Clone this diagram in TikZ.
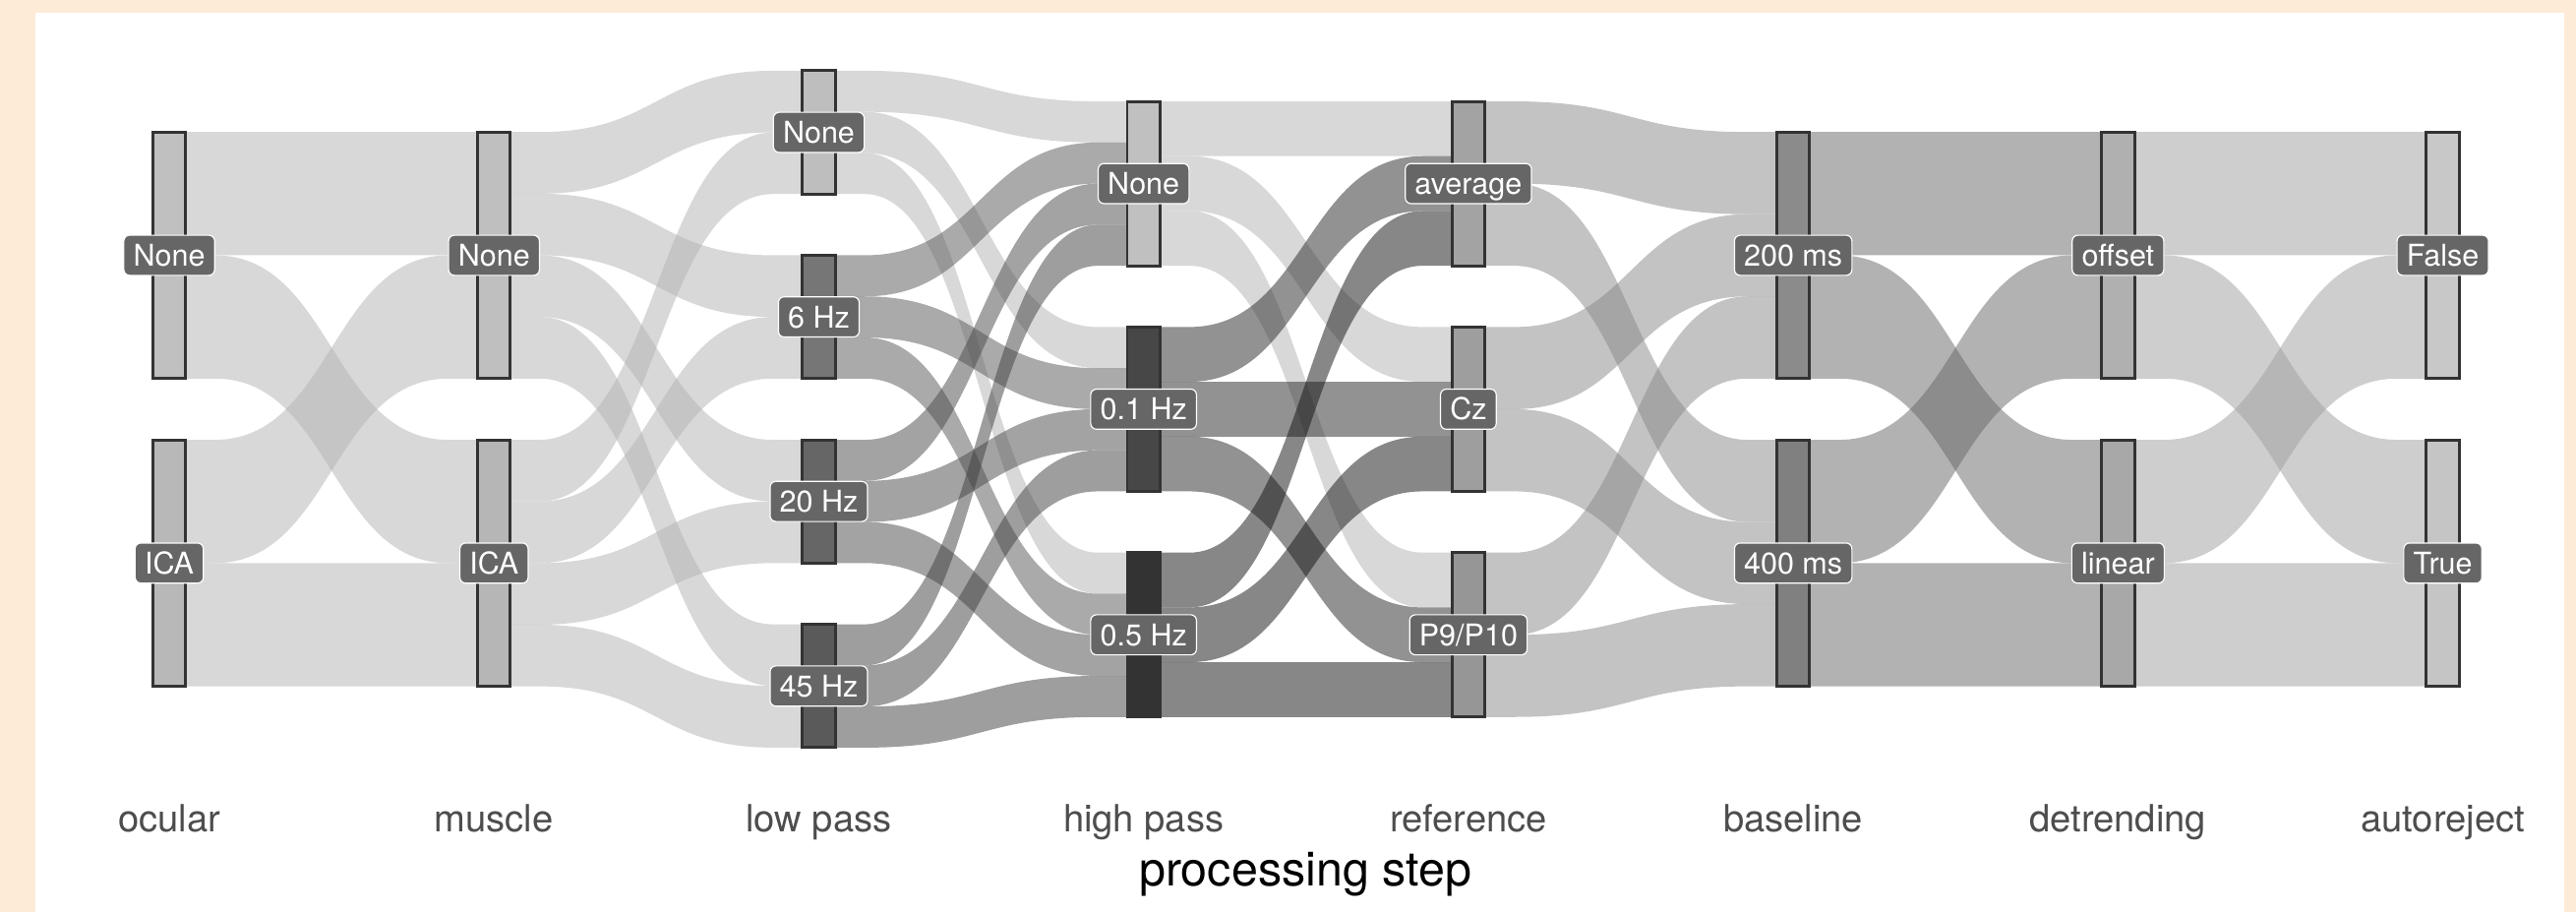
\documentclass[tikz,border=0pt]{standalone}
\usepackage{fontspec}
\setmainfont{TeX Gyre Heros}
\definecolor{beige}{RGB}{253,235,216}
\definecolor{strokec}{RGB}{51,51,51}
\definecolor{labc}{RGB}{102,102,102}
\definecolor{axc}{RGB}{77,77,77}
\begin{document}
\begin{tikzpicture}[x=0.02cm,y=-0.02cm,
  g/.style={fill={rgb,255:red,#1;green,#1;blue,#1}},
  stratum/.style={draw=strokec, line width=1pt},
  lab/.style={fill=labc, draw=white, line width=0.4pt, rounded corners=2pt,
    text=white, font=\fontsize{10.4}{12}\selectfont, inner xsep=3.3pt,
    inner ysep=3.2pt, text height=7.5pt, text depth=0pt},
  axlab/.style={text=axc, font=\fontsize{13}{15}\selectfont, anchor=base, inner sep=0pt},
  ttl/.style={text=black, font=\fontsize{16.5}{19}\selectfont, anchor=base, inner sep=0pt}]
\useasboundingbox (0,0) rectangle (1568,555);
\fill[beige] (0,0) rectangle (1568,555);
\fill[white] (21.6,7.8) rectangle (1561,555);
% flows: column index / source top / source bottom / target top / target bottom / gray
\foreach \i/\a/\b/\c/\d/\col in {
 0/80.35/155.35/80.35/155.35/179, 0/155.35/230.35/267.65/342.65/179,
 0/267.65/342.65/155.35/230.35/179, 0/342.65/417.65/342.65/417.65/179,
 1/80.35/117.85/43.05/80.55/179, 1/117.85/155.35/155.35/192.85/179,
 1/155.35/192.85/267.65/305.15/179, 1/192.85/230.35/379.95/417.45/179,
 1/267.65/305.15/80.55/118.05/179, 1/305.15/342.65/192.85/230.35/179,
 1/342.65/380.15/305.15/342.65/179, 1/380.15/417.65/417.45/454.95/179,
 2/43.05/68.05/61.7/86.7/179, 2/68.05/93.05/199/224/179, 2/93.05/118.05/336.3/361.3/179,
 2/155.35/180.35/86.7/111.7/87, 2/180.35/205.35/224/249/87, 2/205.35/230.35/361.3/386.3/87,
 2/267.65/292.65/111.7/136.7/73, 2/292.65/317.65/249/274/73, 2/317.65/342.65/386.3/411.3/73,
 2/379.95/404.95/136.7/161.7/63, 2/404.95/429.95/274/299/63, 2/429.95/454.95/411.3/436.3/63,
 3/61.7/95.03/61.7/95.03/179, 3/95.03/128.37/199/232.33/179, 3/128.37/161.7/336.3/369.63/179,
 3/199/232.33/95.03/128.37/39, 3/232.33/265.67/232.33/265.67/39, 3/265.67/299/369.63/402.97/39,
 3/336.3/369.63/128.37/161.7/17, 3/369.63/402.97/265.67/299/17, 3/402.97/436.3/402.97/436.3/17,
 4/61.7/111.7/80.35/130.35/137, 4/111.7/161.7/267.65/317.65/137,
 4/199/249/130.35/180.35/137, 4/249/299/317.65/367.65/137,
 4/336.3/386.3/180.35/230.35/137, 4/386.3/436.3/367.65/417.65/137,
 5/80.35/155.35/80.35/155.35/103, 5/155.35/230.35/267.65/342.65/103,
 5/267.65/342.65/155.35/230.35/103, 5/342.65/417.65/342.65/417.65/103,
 6/80.35/155.35/80.35/155.35/159, 6/155.35/230.35/267.65/342.65/159,
 6/267.65/342.65/155.35/230.35/159, 6/342.65/417.65/342.65/417.65/159}{
  \pgfmathsetmacro\xa{103+197.7*\i+10}
  \pgfmathsetmacro\xb{103+197.7*(\i+1)-10}
  \pgfmathsetmacro\xp{\xa+0.1*(\xb-\xa)}
  \pgfmathsetmacro\xq{\xb-0.1*(\xb-\xa)}
  \pgfmathsetmacro\xm{(\xa+\xb)/2}
  \fill[g=\col, fill opacity=0.5] (\xa,\a) -- (\xp,\a) .. controls (\xm,\a) and (\xm,\c) .. (\xq,\c)
     -- (\xb,\c) -- (\xb,\d) -- (\xq,\d) .. controls (\xm,\d) and (\xm,\b) .. (\xp,\b) -- (\xa,\b) -- cycle;
}
% strata: x / top / bottom / gray
\foreach \x/\t/\b/\col in {
 103/80.35/230.35/192, 103/267.65/417.65/184,
 300.7/80.35/230.35/191, 300.7/267.65/417.65/182,
 498.4/43.05/118.05/190, 498.4/155.35/230.35/118, 498.4/267.65/342.65/102, 498.4/379.95/454.95/90,
 696.1/61.7/161.7/192, 696.1/199/299/71, 696.1/336.3/436.3/51,
 893.8/61.7/161.7/163, 893.8/199/299/158, 893.8/336.3/436.3/150,
 1091.5/80.35/230.35/139, 1091.5/267.65/417.65/128,
 1289.2/80.35/230.35/176, 1289.2/267.65/417.65/168,
 1486.9/80.35/230.35/200, 1486.9/267.65/417.65/197}{
  \draw[stratum, g=\col] (\x-10,\t) rectangle (\x+10,\b);
}
% stratum labels
\node[lab] (ocNone) at (103,155.35) {None};
\node[lab] (ocICA) at (103,342.65) {ICA};
\node[lab] (muNone) at (300.7,155.35) {None};
\node[lab] (muICA) at (300.7,342.65) {ICA};
\node[lab] (lpNone) at (498.4,80.55) {None};
\node[lab] (lpSix) at (498.4,192.85) {6 Hz};
\node[lab] (lpTwenty) at (498.4,305.15) {20 Hz};
\node[lab] (lpFortyFive) at (498.4,417.45) {45 Hz};
\node[lab] (hpNone) at (696.1,111.7) {None};
\node[lab] (hpOne) at (696.1,249) {0.1 Hz};
\node[lab] (hpFive) at (696.1,386.3) {0.5 Hz};
\node[lab] (refAvg) at (893.8,111.7) {average};
\node[lab] (refCz) at (893.8,249) {Cz};
\node[lab] (refP) at (893.8,386.3) {P9/P10};
\node[lab] (blTwo) at (1091.5,155.35) {200 ms};
\node[lab] (blFour) at (1091.5,342.65) {400 ms};
\node[lab] (dtOffset) at (1289.2,155.35) {offset};
\node[lab] (dtLinear) at (1289.2,342.65) {linear};
\node[lab] (arFalse) at (1486.9,155.35) {False};
\node[lab] (arTrue) at (1486.9,342.65) {True};
% axis labels
\node[axlab] (axOc) at (103,506) {ocular};
\node[axlab] (axMu) at (300.7,506) {muscle};
\node[axlab] (axLp) at (498.4,506) {low pass};
\node[axlab] (axHp) at (696.1,506) {high pass};
\node[axlab] (axRef) at (893.8,506) {reference};
\node[axlab] (axBl) at (1091.5,506) {baseline};
\node[axlab] (axDt) at (1289.2,506) {detrending};
\node[axlab] (axAr) at (1486.9,506) {autoreject};
\node[ttl] (title) at (794.5,539) {processing step};
\end{tikzpicture}
\end{document}
